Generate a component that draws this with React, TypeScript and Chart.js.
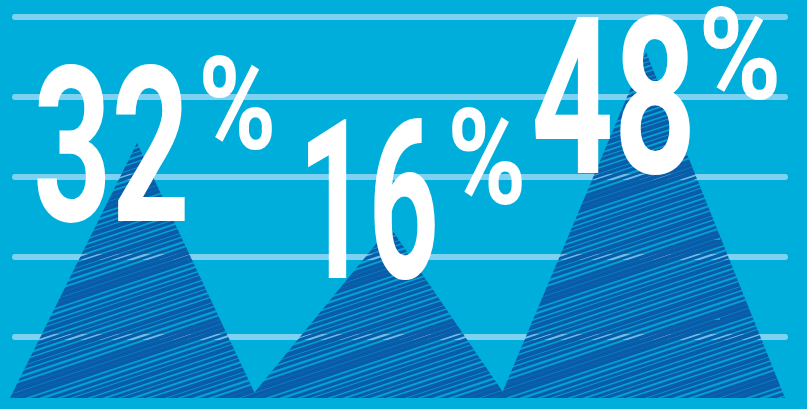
import React, { useEffect, useRef } from "react";
import { Chart, registerables } from "chart.js";

Chart.register(...registerables);

// ---- data ----
const percentValues = [32, 16, 48];
const percentLabels = ["32", "16", "48"];
const peakX = [137, 390, 646];
const peakHeight = [255, 171, 346];
const baseLeft = [10, 250, 500];
const baseRight = [257, 507, 785];
const gridValues = [381, 301, 221, 141, 61];

// ---- layout (chart units: x along, y = height above baseline) ----
const numberBoxes = [
  { x0: 37, x1: 185, yTop: 336, yBottom: 175 },
  { x0: 308, x1: 435, yTop: 280, yBottom: 118 },
  { x0: 535, x1: 690, yTop: 385, yBottom: 223 },
];
const percentBoxes = [
  { x0: 203, x1: 272, yTop: 343, yBottom: 248 },
  { x0: 452, x1: 522, yTop: 290, yBottom: 193 },
  { x0: 703, x1: 777, yTop: 391, yBottom: 298 },
];
const GRID_X0 = 15;
const GRID_X1 = 785;

const BG = "#00AEDC";
const GRID = "#7DD2F1";
const DARK = "#0A5CA8";
const FONT = "Roboto, 'DejaVu Sans', sans-serif";

function makePattern(): CanvasPattern | string {
  const w = 240;
  const h = 80;
  const c = document.createElement("canvas");
  c.width = w;
  c.height = h;
  const g = c.getContext("2d");
  if (!g) return DARK;
  g.fillStyle = "rgba(10,92,168,0.15)";
  g.fillRect(0, 0, w, h);
  g.lineCap = "round";
  let y = 0;
  let i = 0;
  while (y < h) {
    const jitter = Math.sin(i * 2.7) * 0.5 + Math.sin(i * 1.3 + 1) * 0.5;
    const lw = 3.4 + jitter * 1.2;
    g.strokeStyle = DARK;
    g.lineWidth = lw;
    for (const off of [-h, 0, h]) {
      g.beginPath();
      g.moveTo(-10, y + off + 10 / 3);
      g.lineTo(w + 10, y + off - h - 10 / 3);
      g.stroke();
    }
    y += 4.2 + Math.abs(Math.sin(i * 0.9)) * 1.4;
    i++;
  }
  return g.createPattern(c, "repeat") || DARK;
}

function drawFitted(
  ctx: CanvasRenderingContext2D,
  text: string,
  x0: number,
  x1: number,
  top: number,
  bottom: number
) {
  ctx.save();
  ctx.font = `700 100px ${FONT}`;
  ctx.textAlign = "left";
  ctx.textBaseline = "alphabetic";
  let m = ctx.measureText(text);
  const h100 = m.actualBoundingBoxAscent + m.actualBoundingBoxDescent;
  const size = (100 * (bottom - top)) / h100;
  ctx.font = `700 ${size}px ${FONT}`;
  m = ctx.measureText(text);
  const bw = m.actualBoundingBoxLeft + m.actualBoundingBoxRight;
  const sx = (x1 - x0) / bw;
  ctx.translate(x0, bottom - m.actualBoundingBoxDescent);
  ctx.scale(sx, 1);
  ctx.fillStyle = "#FFFFFF";
  ctx.fillText(text, m.actualBoundingBoxLeft, 0);
  ctx.restore();
}

export default function App() {
  const ref = useRef<HTMLCanvasElement | null>(null);

  useEffect(() => {
    document.body.style.margin = "0";
    const canvas = ref.current;
    if (!canvas) return;
    const pattern = makePattern();

    const bgPlugin = {
      id: "bgAndGrid",
      beforeDatasetsDraw(chart: any) {
        const { ctx, scales, width, height } = chart;
        ctx.save();
        ctx.fillStyle = BG;
        ctx.fillRect(0, 0, width, height);
        ctx.strokeStyle = GRID;
        ctx.lineWidth = 6;
        ctx.lineCap = "round";
        for (const v of gridValues) {
          const py = scales.y.getPixelForValue(v);
          ctx.beginPath();
          ctx.moveTo(scales.x.getPixelForValue(GRID_X0), py);
          ctx.lineTo(scales.x.getPixelForValue(GRID_X1), py);
          ctx.stroke();
        }
        ctx.restore();
      },
    };

    const labelPlugin = {
      id: "bigLabels",
      afterDatasetsDraw(chart: any) {
        const { ctx, scales } = chart;
        percentLabels.forEach((t, i) => {
          const b = numberBoxes[i];
          drawFitted(
            ctx,
            t,
            scales.x.getPixelForValue(b.x0),
            scales.x.getPixelForValue(b.x1),
            scales.y.getPixelForValue(b.yTop),
            scales.y.getPixelForValue(b.yBottom)
          );
          const p = percentBoxes[i];
          drawFitted(
            ctx,
            "%",
            scales.x.getPixelForValue(p.x0),
            scales.x.getPixelForValue(p.x1),
            scales.y.getPixelForValue(p.yTop),
            scales.y.getPixelForValue(p.yBottom)
          );
        });
      },
    };

    const datasets = percentValues.map((v, i) => ({
      label: `${v}%`,
      data: [
        { x: baseLeft[i], y: 0 },
        { x: peakX[i], y: peakHeight[i] },
        { x: baseRight[i], y: 0 },
      ],
      fill: "origin",
      backgroundColor: pattern,
      borderWidth: 0,
      borderColor: "rgba(0,0,0,0)",
      pointRadius: 0,
      tension: 0,
    }));

    const chart = new Chart(canvas, {
      type: "line",
      data: { datasets },
      options: {
        animation: false,
        responsive: true,
        maintainAspectRatio: false,
        layout: { padding: 0 },
        plugins: { legend: { display: false }, tooltip: { enabled: false } },
        scales: {
          x: { type: "linear", min: 0, max: 807, display: false },
          y: { type: "linear", min: -11, max: 398, display: false },
        },
      },
      plugins: [bgPlugin, labelPlugin],
    } as any);

    return () => chart.destroy();
  }, []);

  return (
    <div style={{ position: "relative", width: 807, height: 409, background: BG }}>
      <canvas ref={ref} />
    </div>
  );
}
